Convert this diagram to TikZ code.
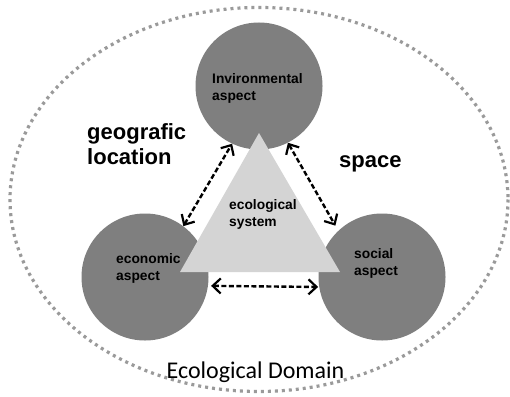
\documentclass[tikz,border=0pt]{standalone}
\usepackage{fontspec}
\setmainfont{Liberation Sans}
\newfontfamily\calib{Carlito}
\usetikzlibrary{arrows.meta}
\definecolor{circgray}{HTML}{7F7F7F}
\definecolor{trigray}{HTML}{D4D4D4}
\definecolor{dotgray}{HTML}{9A9A9A}
\tikzset{
  aspect/.style={circle, fill=circgray, minimum size=127pt, inner sep=0pt},
  smalllbl/.style={font=\bfseries\fontsize{13.8}{17}\selectfont, align=left, inner sep=0pt},
  biglbl/.style={font=\bfseries\fontsize{22}{25}\selectfont, align=left, inner sep=0pt},
  barb/.tip={Straight Barb[length=8pt,width=15pt,line width=2.2pt]},
  rel/.style={dash pattern=on 5pt off 2.5pt, line width=2.4pt, barb-barb},
}
\begin{document}
\begin{tikzpicture}[x=1pt,y=-1pt]
\useasboundingbox (0,0) rectangle (510,396);
\fill[white] (0,0) rectangle (510,396);
% domain ellipse
\draw[dotgray, line width=3.2pt, dash pattern=on 3pt off 4pt] (259,199.5) ellipse [x radius=249, y radius=192];
% circles
\node[aspect] (env) at (259,86) {};
\node[aspect] (eco) at (145,277) {};
\node[aspect] (soc) at (382,277) {};
% triangle
\fill[trigray] (259,133) -- (340,272) -- (180,272) -- cycle;
% labels
\node[smalllbl, anchor=west] (envl) at (212,88.5) {Invironmental\\aspect};
\node[smalllbl, anchor=west] (ecol) at (116,268) {economic\\aspect};
\node[smalllbl, anchor=west] (socl) at (354,263) {social\\aspect};
\node[smalllbl, anchor=west] (sysl) at (229,214) {ecological\\system};
\node[biglbl, anchor=west] (geo) at (87,144.5) {geografic\\location};
\node[biglbl, anchor=west] (spc) at (339,164) {space};
\node[font=\calib\fontsize{24}{28}\selectfont, inner sep=0pt] (dom) at (255.5,372) {Ecological Domain};
% relations
\draw[rel] (eco.53) -- (env.245);
\draw[rel] (env.297) -- ([shift={(-4pt,4pt)}]soc.132);
\draw[rel] ([xshift=3pt]eco.-8) -- ([xshift=-1pt]soc.189);
\end{tikzpicture}
\end{document}
